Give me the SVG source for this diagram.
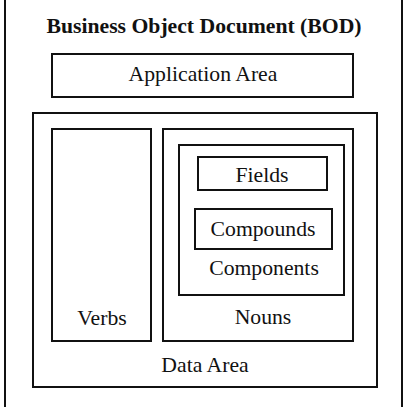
<svg xmlns="http://www.w3.org/2000/svg" width="407" height="407" viewBox="0 0 407 407">
<style>
.box{fill:none;stroke:#111;stroke-width:2}
text{font-family:'Liberation Serif','Times New Roman','DejaVu Serif',serif;font-size:21.7px;fill:#111;text-anchor:middle}
.title{font-weight:bold}
</style>
<rect width="407" height="407" fill="#fff"/>
<g id="bod">
<rect class="box" x="5" y="-3" width="397" height="413"/>
<text class="title" x="204" y="33">Business Object Document (BOD)</text>
</g>
<g id="application-area">
<rect class="box" x="52" y="54" width="301" height="43"/>
<text x="203" y="81">Application Area</text>
</g>
<g id="data-area">
<rect class="box" x="33" y="113" width="344" height="274"/>
<text x="205" y="372">Data Area</text>
</g>
<g id="verbs">
<rect class="box" x="52" y="129" width="99" height="212"/>
<text x="102" y="325">Verbs</text>
</g>
<g id="nouns">
<rect class="box" x="163" y="129" width="190" height="212"/>
<text x="263" y="324">Nouns</text>
</g>
<g id="components">
<rect class="box" x="179" y="145" width="165" height="150"/>
<text x="264" y="275">Components</text>
</g>
<g id="fields">
<rect class="box" x="198" y="157" width="129" height="33"/>
<text x="262" y="182">Fields</text>
</g>
<g id="compounds">
<rect class="box" x="195" y="209" width="137" height="40"/>
<text x="263" y="236">Compounds</text>
</g>
<g id="connectors"/>
</svg>
